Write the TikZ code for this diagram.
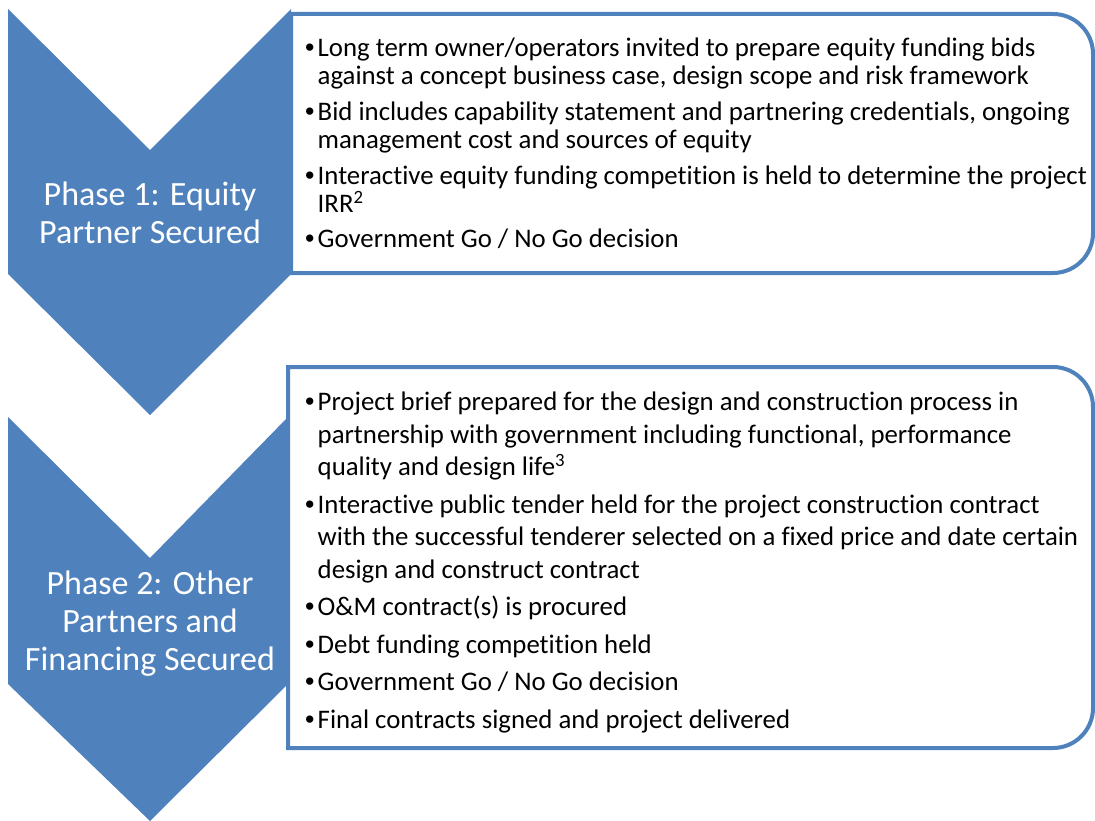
\documentclass[tikz,border=0pt]{standalone}
\usepackage{fontspec}
\setmainfont{Carlito}[Ligatures=NoCommon]
\newfontfamily\bulfont{Liberation Sans}
\definecolor{phaseblue}{HTML}{4F81BD}
\tikzset{
  chevron/.style={fill=phaseblue},
  listbox/.style={draw=phaseblue, line width=4pt, fill=white},
  phasetext/.style={text=white, align=center, inner sep=0pt, font=\fontsize{34}{38}\selectfont},
  listtext/.style={anchor=north west, align=left, inner sep=0pt},
}
\newcommand{\bul}{\makebox[13.5pt][l]{\hspace*{1pt}{\bulfont\char"2022}}}
\newcommand{\ind}{\hspace*{13.5pt}}
\begin{document}
\begin{tikzpicture}[x=1pt,y=-1pt]
    \useasboundingbox (0,0) rectangle (1095,821);
    \newcommand{\rad}{40}
    % phase 1
    \draw[listbox] (291,14) -- (1093-\rad,14) arc[start angle=-90, end angle=0, radius=\rad]
        -- (1093,273-\rad) arc[start angle=0, end angle=90, radius=\rad] -- (291,273) -- cycle;
    \fill[chevron] (8,9) -- (150,150) -- (291,9) -- (291,274) -- (150,415) -- (8,274) -- cycle;
    \node[phasetext] (phase1) at (150,213) {Phase 1: Equity\\Partner Secured};
    \node[listtext, font=\fontsize{26.8}{28}\selectfont] (list1) at (304,38) {%
        \bul Long term owner/operators invited to prepare equity funding bids\\
        \ind against a concept business case, design scope and risk framework\\[8pt]
        \bul Bid includes capability statement and partnering credentials, ongoing\\
        \ind management cost and sources of equity\\[8pt]
        \bul Interactive equity funding competition is held to determine the project\\
        \ind IRR\textsuperscript{2}\\[7pt]
        \bul Government Go / No Go decision};
    % phase 2
    \draw[listbox] (288,367) -- (1093-\rad,367) arc[start angle=-90, end angle=0, radius=\rad]
        -- (1093,748-\rad) arc[start angle=0, end angle=90, radius=\rad] -- (288,748) -- cycle;
    \fill[chevron] (8,417) -- (150,558) -- (288,417) -- (288,684) -- (150,821) -- (8,684) -- cycle;
    \node[phasetext] (phase2) at (150,624) {Phase 2: Other\\Partners and\\Financing Secured};
    \node[listtext, font=\fontsize{26.8}{32.5}\selectfont] (list2) at (304,392) {%
        \bul Project brief prepared for the design and construction process in\\
        \ind partnership with government including functional, performance\\
        \ind quality and design life\textsuperscript{3}\\[5pt]
        \bul Interactive public tender held for the project construction contract\\
        \ind with the successful tenderer selected on a fixed price and date certain\\
        \ind design and construct contract\\[5pt]
        \bul O\&M contract(s) is procured\\[5pt]
        \bul Debt funding competition held\\[5pt]
        \bul Government Go / No Go decision\\[5pt]
        \bul Final contracts signed and project delivered};
\end{tikzpicture}
\end{document}
